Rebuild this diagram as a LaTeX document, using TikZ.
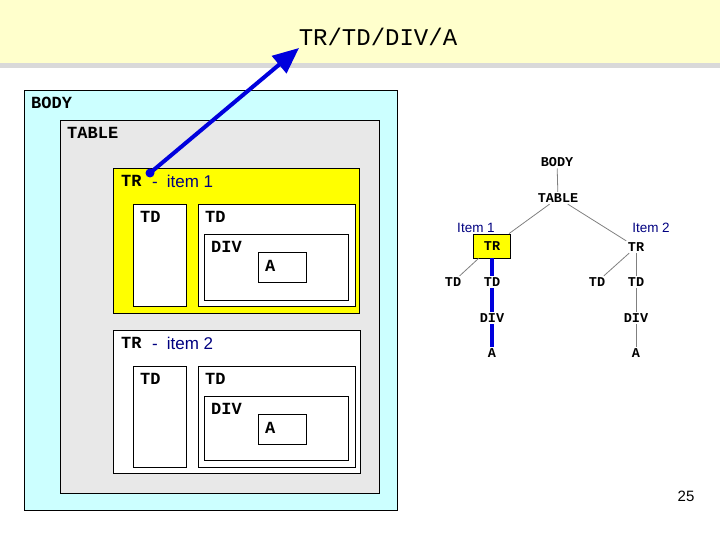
\documentclass[tikz,border=0pt]{standalone}
\usepackage{fontspec}
\setmainfont{Liberation Serif}
\setsansfont{Liberation Sans}
\setmonofont{Liberation Mono}
\usetikzlibrary{arrows.meta}
\definecolor{bandyellow}{HTML}{FFFFCC}
\definecolor{stripe}{HTML}{D9D9D9}
\definecolor{bodycyan}{HTML}{CCFFFF}
\definecolor{tablegray}{HTML}{E8E8E8}
\definecolor{navy}{HTML}{000080}
\definecolor{arrowblue}{HTML}{0000DD}
\definecolor{treeline}{HTML}{808080}
\definecolor{hiyellow}{HTML}{FFFF00}
\tikzset{
 boxlbl/.style={anchor=west, inner sep=0pt, font=\fontsize{17}{17}\selectfont\ttfamily\bfseries},
 itemlbl/.style={anchor=west, inner sep=0pt, text=navy, font=\fontsize{17}{17}\selectfont\sffamily},
 frame/.style={draw=black, line width=0.8pt},
 tn/.style={inner sep=1.5pt, font=\fontsize{13.5}{13.5}\selectfont\ttfamily\bfseries},
 tedge/.style={draw=treeline, line width=0.8pt},
 tpath/.style={draw=arrowblue, line width=4pt},
 titem/.style={inner sep=0pt, text=navy, font=\fontsize{13.5}{13.5}\selectfont\sffamily},
}
\begin{document}
\begin{tikzpicture}[x=1pt,y=-1pt]
\useasboundingbox (0,0) rectangle (720,540);
% header band
\fill[bandyellow] (0,0) rectangle (720,63);
\fill[stripe] (0,63) rectangle (720,68);
\node[inner sep=0pt, font=\fontsize{24}{24}\selectfont\ttfamily] (title) at (378,37) {TR/TD/DIV/A};

% nested boxes
\draw[frame, fill=bodycyan] (24,90) rectangle (397,510);
\node[boxlbl] (lbody) at (31,103) {BODY};
\draw[frame, fill=tablegray] (60,120) rectangle (379,493);
\node[boxlbl] (ltable) at (67,133) {TABLE};

% TR item 1
\draw[frame, fill=hiyellow] (113,168) rectangle (359,313);
\node[boxlbl] (ltr1) at (121,181) {TR};
\node[itemlbl] (litem1) at (152,181) {-\hspace{9pt}item 1};
\draw[frame, fill=white] (133,204) rectangle (186,306);
\node[boxlbl] (ltd1a) at (140,217) {TD};
\draw[frame, fill=white] (198,204) rectangle (355,306);
\node[boxlbl] (ltd1b) at (205,217) {TD};
\draw[frame, fill=white] (204,234) rectangle (348,300);
\node[boxlbl] (ldiv1) at (211,247) {DIV};
\draw[frame, fill=white] (258,252) rectangle (306,282);
\node[boxlbl] (la1) at (265,266) {A};

% TR item 2
\draw[frame, fill=white] (113,330) rectangle (360,473);
\node[boxlbl] (ltr2) at (121,343) {TR};
\node[itemlbl] (litem2) at (152,343) {-\hspace{9pt}item 2};
\draw[frame, fill=white] (133,366) rectangle (186,467);
\node[boxlbl] (ltd2a) at (140,379) {TD};
\draw[frame, fill=white] (198,366) rectangle (355,467);
\node[boxlbl] (ltd2b) at (205,379) {TD};
\draw[frame, fill=white] (204,396) rectangle (348,460);
\node[boxlbl] (ldiv2) at (211,409) {DIV};
\draw[frame, fill=white] (258,414) rectangle (306,444);
\node[boxlbl] (la2) at (265,428) {A};

% blue arrow
\coordinate (dot) at (150,173);
\coordinate (tip) at (299,48);
\draw[arrowblue, line width=4pt, -{Triangle[length=26pt,width=22pt]}] (dot) -- (tip);
\fill[arrowblue] (dot) circle (4.5pt);

% tree
\node[tn] (tbody) at (557,162) {BODY};
\node[tn] (ttable) at (558,198) {TABLE};
\node[tn, draw=black, line width=0.8pt, fill=hiyellow, minimum width=37pt, minimum height=24pt] (tr1) at (492,246) {TR};
\node[tn] (tr2) at (636,247) {TR};
\node[titem] (titem1) at (476,228) {Item 1};
\node[titem] (titem2) at (651,228) {Item 2};
\node[tn] (td1a) at (453,282) {TD};
\node[tn] (td1b) at (492,282) {TD};
\node[tn] (td2a) at (597,282) {TD};
\node[tn] (td2b) at (636,282) {TD};
\node[tn] (div1) at (492,318) {DIV};
\node[tn] (div2) at (636,318) {DIV};
\node[tn] (a1) at (492,353) {A};
\node[tn] (a2) at (636,353) {A};

\draw[tedge] (tbody) -- (ttable);
\draw[tedge] (ttable) -- (tr1);
\draw[tedge] (ttable) -- (tr2);
\draw[tedge] (tr1) -- (td1a);
\draw[tedge] (tr2) -- (td2a);
\draw[tedge] (tr2) -- (td2b);
\draw[tedge] (td2b) -- (div2);
\draw[tedge] (div2) -- (a2);
\draw[tpath] (tr1) -- (td1b);
\draw[tpath] (td1b) -- (div1);
\draw[tpath] (div1) -- (a1);

\node[inner sep=0pt, font=\fontsize{15}{15}\selectfont\sffamily] (pnum) at (686,496) {25};
\end{tikzpicture}
\end{document}
